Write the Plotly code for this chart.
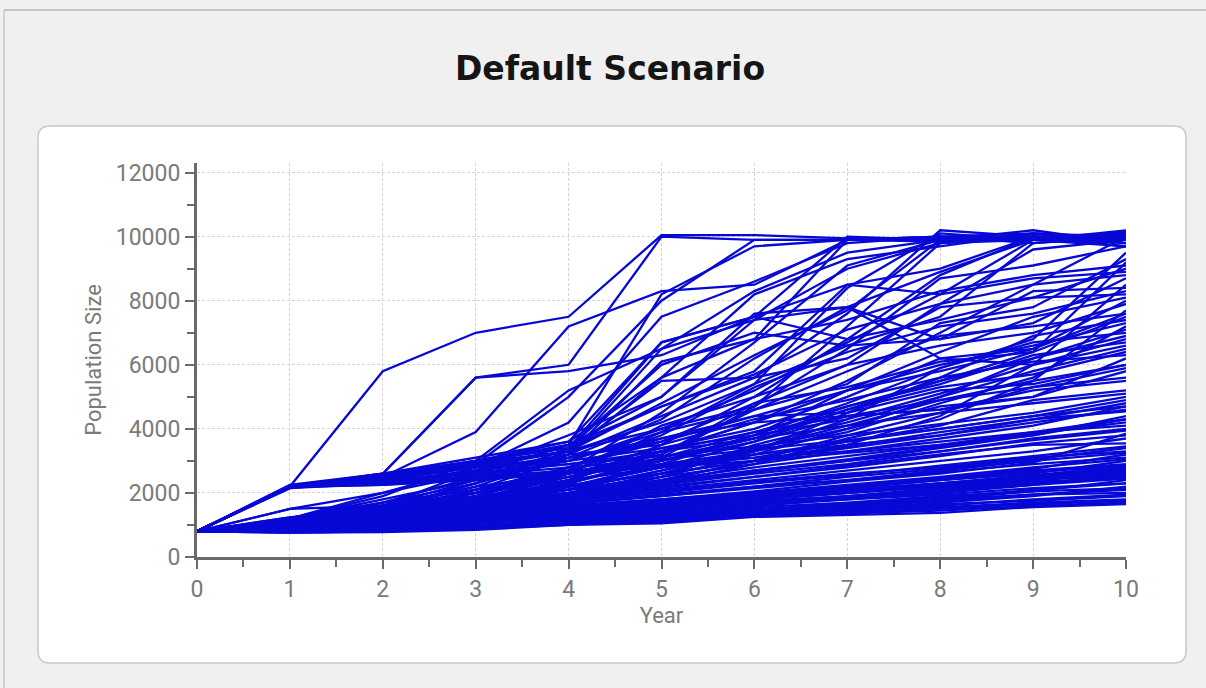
import plotly.graph_objects as go

years = list(range(11))

# Runs reaching the ~10000 ceiling
T1 = [800, 2200, 5800, 7000, 7500, 10050, 10050, 9950, 9900, 9900, 9900]
T2 = [800, 2200, 2600, 5600, 6000, 10000, 9900, 9900, 9850, 10000, 9800]
T3 = [800, 2200, 2500, 3900, 7200, 8300, 8500, 9900, 10000, 9900, 10000]
T4 = [800, 2200, 2400, 2900, 5000, 8000, 9900, 9900, 9950, 9900, 10100]
T5 = [800, 1200, 2000, 2800, 4200, 7500, 8600, 9800, 10000, 9900, 9700]
T6 = [800, 2200, 2500, 3000, 3400, 6700, 7500, 10000, 9900, 10000, 9900]
T7 = [800, 1500, 2000, 2600, 3500, 5000, 7400, 9000, 9800, 10100, 9900]
T8 = [800, 1150, 1700, 2500, 3200, 6100, 6800, 9900, 10000, 9800, 10000]
T9 = [800, 2250, 2600, 3000, 3500, 4700, 5800, 8500, 9000, 10000, 10100]
T10 = [800, 1100, 1500, 2200, 3200, 4400, 5600, 7600, 10200, 10000, 10000]
T11 = [800, 1200, 1800, 2400, 3000, 4000, 5200, 6700, 8200, 9900, 10050]
T12 = [800, 2200, 2550, 2950, 3300, 4200, 5400, 6600, 7500, 9800, 10000]
T13 = [800, 1000, 1400, 2100, 2800, 3600, 4800, 6000, 7900, 9600, 9900]
T14 = [800, 1150, 1400, 2000, 2600, 3300, 4200, 5500, 7000, 8500, 10000]
T15 = [800, 900, 1200, 1600, 2300, 3100, 4700, 6500, 8700, 9100, 9700]
T16 = [800, 2200, 2450, 2900, 3300, 4000, 4700, 7200, 9800, 9900, 10100]
T17 = [800, 2200, 2500, 2950, 3500, 8200, 9700, 9900, 10000, 10100, 9900]
T18 = [800, 1200, 1500, 2300, 3300, 6500, 8300, 9500, 9900, 10200, 9800]
T19 = [800, 1100, 1400, 1900, 2700, 4500, 6700, 9100, 9900, 9900, 10150]
T20 = [800, 2200, 2400, 2850, 3300, 4800, 6300, 7700, 9900, 10000, 9800]
T21 = [800, 1000, 1300, 1800, 2600, 3900, 5400, 8400, 10100, 9900, 9900]
T22 = [800, 1150, 1450, 2100, 3100, 4300, 6200, 7800, 8900, 9900, 10200]
T23 = [800, 950, 1200, 1700, 2400, 3500, 5000, 6800, 8800, 10000, 9700]
T24 = [800, 2200, 2600, 3100, 3600, 5600, 8200, 9300, 9700, 10100, 10000]

# Mid-range runs
M1 = [800, 2200, 2600, 5600, 5800, 6300, 7500, 8500, 8200, 8700, 8900]
M2 = [800, 2200, 2500, 3000, 5200, 6500, 7400, 7800, 6200, 6500, 7600]
M3 = [800, 1500, 1600, 2700, 3800, 5000, 7600, 7800, 6800, 8300, 8400]
M4 = [800, 1200, 1900, 3000, 3400, 6000, 7000, 6600, 6800, 7300, 8700]
M5 = [800, 2150, 2400, 2800, 3300, 5500, 5600, 6200, 7800, 8100, 8200]
M6 = [800, 1150, 1400, 1900, 2600, 4100, 5000, 6000, 6600, 7000, 7900]
M7 = [800, 1100, 1300, 1800, 2500, 3200, 4800, 5300, 6100, 6400, 9200]
M8 = [800, 1000, 1200, 1700, 2300, 3000, 3800, 5200, 5800, 6500, 8000]
M9 = [800, 1200, 1500, 2300, 3100, 3600, 4400, 4500, 5600, 6900, 7400]
M10 = [800, 900, 1100, 1500, 2200, 2800, 3600, 4600, 5500, 6200, 7100]
M11 = [800, 1150, 1600, 2000, 2700, 3400, 4000, 5000, 6200, 6000, 6800]
M12 = [800, 850, 1000, 1400, 1900, 2500, 3500, 4200, 5000, 5800, 6500]
M13 = [800, 2200, 2300, 2700, 3200, 3500, 4300, 4900, 5600, 6100, 6300]
M14 = [800, 1100, 1350, 1800, 2200, 2900, 3300, 4500, 5200, 5400, 6000]
M15 = [800, 1000, 1150, 1500, 2000, 2600, 3400, 4000, 4700, 5000, 5800]
M16 = [800, 1200, 1700, 2100, 2500, 3000, 3600, 4400, 4900, 5300, 5600]
M17 = [800, 950, 1200, 1700, 2400, 3300, 3900, 4400, 4600, 5200, 5500]
M18 = [800, 1150, 1300, 1600, 1900, 2400, 3000, 3500, 4400, 6000, 8500]
M19 = [800, 2200, 2400, 2800, 3000, 3400, 3800, 4300, 5900, 6800, 9500]
M20 = [800, 1100, 1600, 2200, 2600, 3200, 4600, 5400, 7300, 7800, 9300]
M21 = [800, 900, 1050, 1300, 1800, 2300, 2900, 3700, 4300, 5500, 7700]
M22 = [800, 1200, 1400, 1700, 2100, 2700, 3300, 3900, 4800, 5600, 7200]
M23 = [800, 1000, 1250, 1600, 2200, 2800, 3100, 3600, 4100, 4900, 5200]
M24 = [800, 2200, 2350, 2600, 2900, 3300, 3700, 4100, 4500, 4800, 5100]
M25 = [800, 1150, 1450, 2000, 2800, 3700, 4200, 4400, 4600, 5000, 6200]
M26 = [800, 2200, 2550, 3000, 3600, 6700, 7500, 6800, 7400, 8100, 9000]
M27 = [800, 1150, 1600, 2400, 3200, 5600, 6800, 7400, 8300, 8800, 9100]
M28 = [800, 1200, 1700, 2300, 3400, 4700, 5700, 7100, 7900, 8500, 8800]
M29 = [800, 1100, 1300, 1900, 2800, 3800, 5300, 6400, 7200, 7600, 8300]
M30 = [800, 1000, 1250, 1750, 2400, 3300, 4200, 5200, 6400, 7500, 8100]
M31 = [800, 2200, 2350, 2700, 3000, 3900, 4600, 5800, 6900, 7200, 7600]
M32 = [800, 900, 1150, 1600, 2100, 2900, 3800, 4800, 5900, 6700, 7000]
M33 = [800, 1150, 1350, 1800, 2300, 3100, 3900, 4700, 5400, 6300, 6700]
M34 = [800, 1050, 1250, 1650, 2100, 2700, 3400, 4100, 4900, 5500, 6000]
M35 = [800, 1200, 1550, 2000, 2500, 3100, 3700, 4600, 5300, 5700, 6400]
M36 = [800, 2200, 2450, 2800, 3100, 3700, 4400, 5200, 6000, 6600, 7300]
M37 = [800, 980, 1200, 1550, 1950, 2600, 3300, 4300, 5100, 6000, 6600]
M38 = [800, 1180, 1450, 1850, 2350, 3000, 3700, 4700, 5500, 6400, 7500]
M39 = [800, 1100, 1400, 1700, 2000, 2500, 3200, 4000, 5000, 6200, 6900]
M40 = [800, 880, 1050, 1400, 1850, 2400, 3000, 3800, 4500, 5300, 5900]

# Low-range runs
L1 = [800, 760, 780, 850, 1000, 1050, 1250, 1320, 1380, 1560, 1650]
L2 = [800, 800, 850, 900, 1050, 1150, 1300, 1400, 1500, 1650, 1750]
L3 = [800, 850, 900, 1000, 1100, 1250, 1400, 1500, 1650, 1750, 1900]
L4 = [800, 900, 1000, 1100, 1200, 1350, 1500, 1650, 1800, 1950, 2100]
L5 = [800, 950, 1050, 1150, 1300, 1450, 1650, 1800, 1950, 2150, 2300]
L6 = [800, 1000, 1100, 1250, 1400, 1550, 1750, 1900, 2100, 2300, 2500]
L7 = [800, 1050, 1150, 1300, 1500, 1700, 1900, 2100, 2300, 2500, 2700]
L8 = [800, 1100, 1200, 1400, 1600, 1800, 2000, 2200, 2450, 2700, 2900]
L9 = [800, 1150, 1250, 1450, 1700, 1950, 2200, 2400, 2650, 2900, 3100]
L10 = [800, 1200, 1350, 1550, 1800, 2050, 2350, 2600, 2800, 3100, 3300]
L11 = [800, 780, 820, 900, 1050, 1200, 1350, 1500, 1700, 1900, 2200]
L12 = [800, 820, 880, 980, 1150, 1300, 1450, 1600, 1800, 2050, 2400]
L13 = [800, 870, 950, 1100, 1250, 1400, 1600, 1800, 2000, 2250, 2600]
L14 = [800, 920, 1000, 1200, 1350, 1550, 1800, 2000, 2250, 2500, 2800]
L15 = [800, 980, 1100, 1300, 1500, 1700, 2000, 2250, 2500, 2800, 3050]
L16 = [800, 1020, 1200, 1400, 1650, 1900, 2200, 2500, 2750, 3050, 3400]
L17 = [800, 1080, 1300, 1550, 1800, 2100, 2400, 2700, 3000, 3300, 3700]
L18 = [800, 1130, 1400, 1650, 1950, 2250, 2600, 2900, 3300, 3700, 4000]
L19 = [800, 1180, 1500, 1800, 2100, 2400, 2800, 3150, 3500, 3900, 4300]
L20 = [800, 1220, 1600, 1900, 2250, 2600, 3000, 3400, 3800, 4200, 4600]
L21 = [800, 2200, 2300, 2500, 2700, 2900, 3100, 3300, 3600, 3900, 4100]
L22 = [800, 2180, 2250, 2450, 2650, 2850, 3200, 3500, 3800, 4300, 4800]
L23 = [800, 760, 800, 900, 1000, 1150, 1300, 1450, 1550, 1700, 1800]
L24 = [800, 790, 840, 950, 1080, 1250, 1400, 1550, 1750, 1950, 2000]
L25 = [800, 1100, 1250, 1350, 1500, 1650, 1850, 2050, 2200, 2400, 2550]
L26 = [800, 940, 1050, 1250, 1450, 1650, 1900, 2150, 2400, 2600, 3000]
L27 = [800, 860, 1000, 1150, 1350, 1600, 1850, 2150, 2450, 2750, 3200]
L28 = [800, 1160, 1350, 1600, 1900, 2200, 2500, 2850, 3200, 3500, 3550]
L29 = [800, 1000, 1300, 1650, 2000, 2300, 2700, 3000, 3400, 3800, 4400]
L30 = [800, 1210, 1450, 1750, 2100, 2500, 2900, 3300, 3700, 4100, 4700]
L31 = [800, 1060, 1150, 1200, 1300, 1500, 1700, 1900, 2150, 2350, 2450]
L32 = [800, 880, 920, 1050, 1200, 1350, 1550, 1700, 1900, 2050, 2150]
L33 = [800, 1170, 1300, 1500, 1750, 2000, 2300, 2550, 2850, 3150, 3450]
L34 = [800, 1240, 1550, 2000, 2400, 2800, 3200, 3600, 4000, 4400, 4900]
L35 = [800, 1010, 1100, 1350, 1600, 1800, 2050, 2350, 2600, 2950, 3850]
L36 = [800, 770, 800, 880, 1020, 1100, 1280, 1360, 1450, 1600, 1700]
L37 = [800, 810, 870, 960, 1100, 1250, 1380, 1480, 1600, 1800, 1950]
L38 = [800, 1150, 1200, 1300, 1450, 1600, 1800, 2000, 2200, 2450, 2650]
L39 = [800, 1180, 1250, 1400, 1550, 1750, 1950, 2150, 2400, 2650, 2850]
L40 = [800, 1200, 1300, 1500, 1700, 1900, 2150, 2400, 2700, 3000, 3250]
L41 = [800, 1190, 1400, 1700, 2000, 2350, 2700, 3050, 3450, 3850, 4200]
L42 = [800, 1160, 1350, 1650, 1950, 2300, 2650, 3000, 3300, 3650, 3950]
L43 = [800, 2200, 2250, 2400, 2600, 2800, 3000, 3250, 3500, 3800, 4300]
L44 = [800, 2150, 2300, 2550, 2800, 3050, 3350, 3650, 4000, 4400, 4700]
L45 = [800, 2230, 2350, 2650, 2900, 3150, 3450, 3800, 4150, 4500, 5000]
L46 = [800, 1100, 1250, 1400, 1550, 1700, 1900, 2100, 2300, 2550, 2750]
L47 = [800, 1030, 1150, 1300, 1450, 1650, 1850, 2050, 2300, 2550, 2850]
L48 = [800, 960, 1080, 1250, 1420, 1600, 1800, 2000, 2200, 2450, 2600]
L49 = [800, 900, 980, 1150, 1300, 1450, 1650, 1850, 2050, 2250, 2450]
L50 = [800, 840, 900, 1000, 1150, 1300, 1450, 1650, 1850, 2100, 2300]
L51 = [800, 1240, 1500, 1850, 2200, 2600, 3000, 3450, 3900, 4300, 4550]
L52 = [800, 1120, 1300, 1550, 1850, 2150, 2500, 2800, 3150, 3550, 3800]

runs = [T1, T2, T3, T4, T5, T6, T7, T8, T9, T10, T11, T12, T13, T14, T15, T16,
        T17, T18, T19, T20, T21, T22, T23, T24,
        M1, M2, M3, M4, M5, M6, M7, M8, M9, M10, M11, M12, M13, M14, M15, M16,
        M17, M18, M19, M20, M21, M22, M23, M24, M25, M26, M27, M28, M29, M30,
        M31, M32, M33, M34, M35, M36, M37, M38, M39, M40,
        L1, L2, L3, L4, L5, L6, L7, L8, L9, L10, L11, L12, L13, L14, L15, L16,
        L17, L18, L19, L20, L21, L22, L23, L24, L25, L26, L27, L28, L29, L30,
        L31, L32, L33, L34, L35, L36, L37, L38, L39, L40, L41, L42, L43, L44,
        L45, L46, L47, L48, L49, L50, L51, L52]

title_text = "Default Scenario"
x_title = "Year"
y_title = "Population Size"
y_ticks = [0, 2000, 4000, 6000, 8000, 10000, 12000]
y_minor = [1000, 3000, 5000, 7000, 9000, 11000]

W, H = 1206, 688
ML, MR, MT, MB = 197, 80, 163, 131
PW, PH = W - ML - MR, H - MT - MB


def px(xp):
    return (xp - ML) / PW


def py(yp):
    return (H - MB - yp) / PH


fig = go.Figure()
for r in runs:
    fig.add_trace(go.Scatter(x=years, y=r, mode="lines",
                             line=dict(color="#0808d6", width=2.3),
                             hoverinfo="skip", showlegend=False))

# rounded white panel
x0, x1, y0, y1 = px(38), px(1186), py(126), py(663)
rx, ry = 12 / PW, 12 / PH
panel = (f"M {x0+rx},{y0} L {x1-rx},{y0} Q {x1},{y0} {x1},{y0-ry} "
         f"L {x1},{y1+ry} Q {x1},{y1} {x1-rx},{y1} "
         f"L {x0+rx},{y1} Q {x0},{y1} {x0},{y1+ry} "
         f"L {x0},{y0-ry} Q {x0},{y0} {x0+rx},{y0} Z")

shapes = [
    dict(type="path", path=panel, xref="paper", yref="paper",
         fillcolor="white", line=dict(color="#c8c8c8", width=1.5), layer="below"),
    dict(type="line", xref="paper", yref="paper", x0=px(4), x1=px(1206),
         y0=py(10), y1=py(10), line=dict(color="#b4b4b4", width=1.5)),
    dict(type="line", xref="paper", yref="paper", x0=px(4), x1=px(4),
         y0=py(10), y1=py(688), line=dict(color="#c8c8c8", width=1.5)),
]

tick_font = dict(family="Roboto, Arial, sans-serif", size=23, color="#7a7a7a")
title_font = dict(family="Roboto, Arial, sans-serif", size=22, color="#7a7a7a")

fig.update_layout(
    width=W, height=H, autosize=False,
    margin=dict(l=ML, r=MR, t=MT, b=MB),
    paper_bgcolor="#f0f0f0",
    plot_bgcolor="rgba(0,0,0,0)",
    shapes=shapes,
    showlegend=False,
    title=dict(text=title_text, x=610 / W, xanchor="center", xref="container",
               y=1 - 68 / H, yanchor="middle", yref="container",
               font=dict(family="DejaVu Sans, Arial, sans-serif", size=33,
                         color="#151515", weight="bold")),
    xaxis=dict(range=[0, 10], dtick=1, tick0=0,
               showgrid=True, gridcolor="#d4d4d4", gridwidth=1, griddash="3px,2px",
               showline=True, linecolor="#6a6a6a", linewidth=3,
               ticks="outside", ticklen=9, tickwidth=2, tickcolor="#6a6a6a",
               minor=dict(dtick=0.5, ticks="outside", ticklen=7, tickwidth=2,
                          tickcolor="#6a6a6a", showgrid=False),
               tickfont=tick_font, zeroline=False,
               title=dict(text=x_title, standoff=6, font=title_font)),
    yaxis=dict(range=[0, 12300], tickvals=y_ticks, tickformat="d",
               showgrid=True, gridcolor="#d4d4d4", gridwidth=1, griddash="3px,2px",
               showline=True, linecolor="#6a6a6a", linewidth=3,
               ticks="outside", ticklen=9, tickwidth=2, tickcolor="#6a6a6a",
               minor=dict(tickvals=y_minor, ticks="outside",
                          ticklen=7, tickwidth=2, tickcolor="#6a6a6a", showgrid=False),
               tickfont=tick_font, zeroline=False,
               title=dict(text=y_title, standoff=9, font=title_font)),
)

fig.write_html("out.html")
